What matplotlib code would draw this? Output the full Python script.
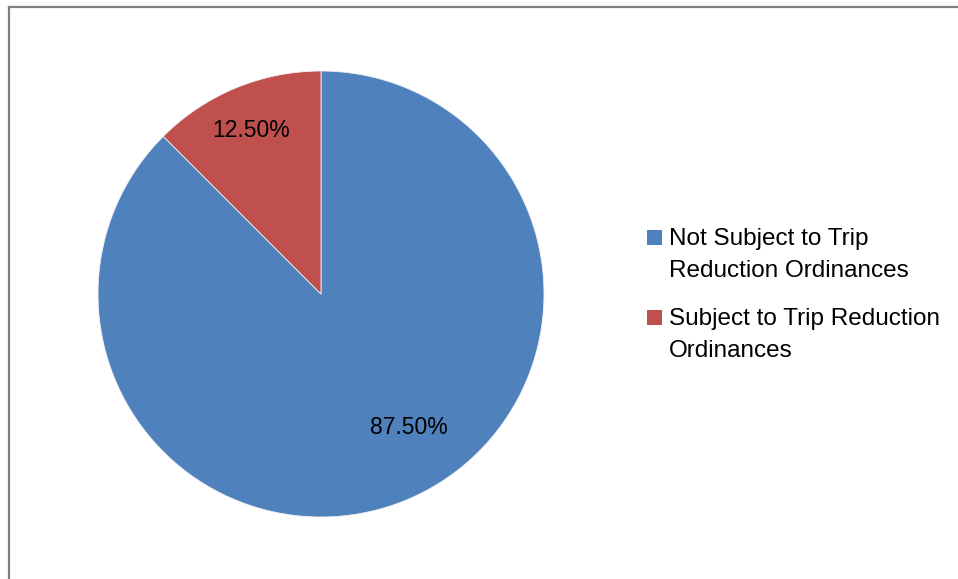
import matplotlib
matplotlib.use('Agg')
import matplotlib.pyplot as plt
from matplotlib.lines import Line2D
from matplotlib.patches import Rectangle
import numpy as np

plt.rcParams['font.family'] = ['Liberation Sans', 'DejaVu Sans']

labels = ['Not Subject to Trip\nReduction Ordinances',
          'Subject to Trip Reduction\nOrdinances']
values = [87.5, 12.5]
colors = ['#4F81BD', '#C0504D']
# where Excel put the percentage labels (radius, angle in degrees)
label_pos = [(0.718, -56.8), (0.797, 113.2)]

W, H = 958, 579
fig = plt.figure(figsize=(W / 100, H / 100), dpi=100)

def px(x, y):
    return x / W, 1 - y / H

# pie centred at (321, 294) px, radius 223 px
cx, cy, r = 321, 294, 223
ax = fig.add_axes([(cx - r) / W, (H - cy - r) / H, 2 * r / W, 2 * r / H])
wedges, texts, autotexts = ax.pie(values, colors=colors, startangle=90, counterclock=False,
                                  autopct='%.2f%%', radius=1,
                                  wedgeprops=dict(edgecolor='#f0f0f0', linewidth=0.6),
                                  textprops=dict(fontsize=16.5, color='black'))
for t, (rr, ang) in zip(autotexts, label_pos):
    a = np.radians(ang)
    t.set_position((rr * np.cos(a), rr * np.sin(a)))
    t.set_ha('center')
    t.set_va('center')
ax.set_xlim(-1, 1)
ax.set_ylim(-1, 1)
ax.set_aspect('auto')
ax.axis('off')

# legend drawn by hand so the square sits beside the first line
sq = 15
entry_top = [245, 325]   # baseline of the first line of each entry
for lab, col, base in zip(labels, colors, entry_top):
    x0, y0 = px(647, base)
    fig.add_artist(Rectangle((x0, y0), sq / W, sq / H, transform=fig.transFigure,
                             facecolor=col, edgecolor='none'))
    for j, line in enumerate(lab.split('\n')):
        tx, ty = px(669, base + j * 32)
        fig.text(tx, ty, line, fontsize=17.5, va='baseline', ha='left', color='black')

# chart area border (left and top edges visible)
gray = '#808080'
fig.add_artist(Line2D([9 / W, 9 / W], [0, 1 - 6.5 / H], transform=fig.transFigure,
                      color=gray, linewidth=1.6, solid_capstyle='projecting'))
fig.add_artist(Line2D([9 / W, 1], [1 - 6.5 / H, 1 - 6.5 / H], transform=fig.transFigure,
                      color=gray, linewidth=1.6))

fig.savefig('out.png', dpi=100, facecolor='white')
